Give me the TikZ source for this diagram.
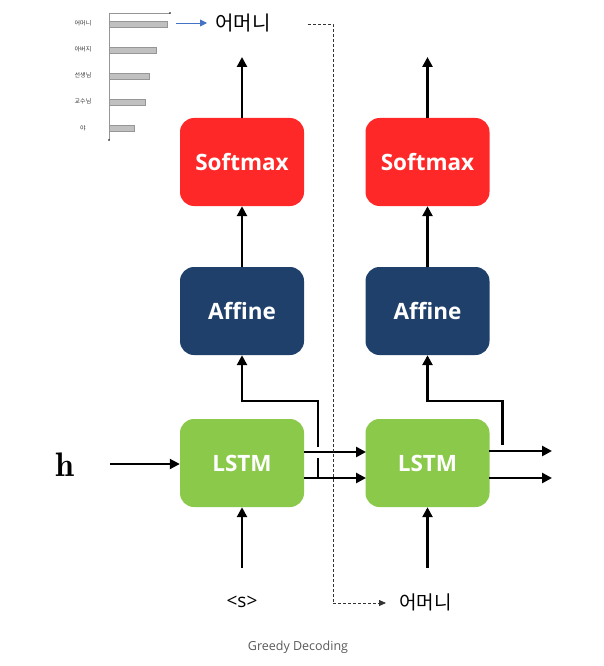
\documentclass[tikz,border=0pt]{standalone}
\usepackage{fontspec}
\setmainfont{Open Sans}
\newfontfamily\kr{Noto Sans CJK KR}
\newfontfamily\boxfont{Open Sans Bold}
\usetikzlibrary{arrows.meta}
\definecolor{sred}{RGB}{255,40,40}
\definecolor{anavy}{RGB}{31,64,107}
\definecolor{lgreen}{RGB}{139,201,74}
\definecolor{bargray}{RGB}{192,192,192}
\definecolor{barline}{RGB}{150,150,150}
\definecolor{pblue}{RGB}{68,114,196}
\tikzset{
  blk/.style={rounded corners=14pt, minimum width=124pt, minimum height=88pt, inner sep=0pt,
    text=white, font=\boxfont\fontsize{22.5}{25}\selectfont},
  arr/.style={line width=2.6pt, -{Triangle[length=10pt,width=10pt]}},
  ln/.style={line width=2.6pt},
  dsh/.style={line width=0.8pt, densely dashed, black!80},
  bar/.style={fill=bargray, draw=barline, line width=0.6pt},
  lbl/.style={font=\kr\fontsize{6}{7}\selectfont, text=black!80},
}
\begin{document}
\begin{tikzpicture}[x=1pt,y=-1pt]
\useasboundingbox (0,0) rectangle (604,666);
% boxes
\node[blk, fill=sred] (sm1) at (242,162) {Softmax};
\node[blk, fill=anavy] (af1) at (242,311) {Affine};
\node[blk, fill=lgreen] (ls1) at (242,463) {LSTM};
\node[blk, fill=sred] (sm2) at (427.5,162) {Softmax};
\node[blk, fill=anavy] (af2) at (427.5,311) {Affine};
\node[blk, fill=lgreen] (ls2) at (427.5,463) {LSTM};
% texts
\node[font=\kr\fontsize{20}{22}\selectfont, anchor=west, inner sep=0pt] (w1) at (215,23) {어머니};
\node[font=\kr\fontsize{19}{21}\selectfont, anchor=west, inner sep=0pt] (w2) at (399,602) {어머니};
\node[font=\fontsize{19}{21}\selectfont, inner sep=0pt] (s) at (242,602) {<s>};
\node[font=\fontfamily{lmr}\bfseries\fontsize{34}{36}\selectfont, inner sep=0pt] (h) at (65,465) {h};
\node[font=\fontsize{12.5}{14}\selectfont, text=black!65] (cap) at (298,647) {Greedy Decoding};
% coordinates
\coordinate (t1) at (242,57);
\coordinate (t2) at (427.5,57);
\coordinate (b1) at (242,568);
\coordinate (b2) at (427.5,568);
\coordinate (hs) at (110,464);
\coordinate (ba) at (207,23);
\coordinate (da) at (386,603);
% vertical arrows
\draw[arr] (sm1.north) -- (t1);
\draw[arr] (sm2.north) -- (t2);
\draw[arr] (af1.north) -- (sm1.south);
\draw[arr] (af2.north) -- (sm2.south);
\draw[arr] (b1) -- (ls1.south);
\draw[arr] (b2) -- (ls2.south);
\draw[arr, line width=2pt] (hs) -- (ls1.west |- hs);
% LSTM1 outputs
\draw[arr] (304,452) -- (366,452);
\draw[arr] (304,478) -- (366,478);
\draw[ln] (318,447) -- (318,401) -- (242,401);
\draw[arr] (242,402.3) -- (af1.south);
\draw[ln] (318,458) -- (318,478);
% LSTM2 outputs
\draw[arr] (489,451) -- (552,451);
\draw[arr] (489,478) -- (552,478);
\draw[ln] (502.5,445) -- (502.5,401) -- (427.5,401);
\draw[arr] (427.5,402.3) -- (af2.south);
% dashed connector
\draw[dsh] (308,24) -- (333,24) -- (333,603);
\draw[dsh, -{Triangle[length=7pt,width=6pt]}] (333,603) -- (da);
% bar chart
\draw[barline, line width=0.7pt] (109,13) -- (109,140);
\draw[barline, line width=0.7pt] (109,13) -- (170,13);
\fill[black] (170,13) circle (0.9);
\fill[black] (109,140) circle (0.9);
\draw[bar] (109,21) rectangle (167,27);
\draw[bar] (109,47) rectangle (156,53);
\draw[bar] (109,73) rectangle (149,79);
\draw[bar] (109,99) rectangle (145,105);
\draw[bar] (109,125) rectangle (134,131);
\node[lbl] (l1) at (83,23) {어머니};
\node[lbl] (l2) at (83,49) {아버지};
\node[lbl] (l3) at (83,75) {선생님};
\node[lbl] (l4) at (83,101) {교수님};
\node[lbl] (l5) at (83,128) {야};
\draw[line width=0.9pt, pblue, -{Triangle[length=7pt,width=7pt]}] (176,23) -- (ba);
\end{tikzpicture}
\end{document}
